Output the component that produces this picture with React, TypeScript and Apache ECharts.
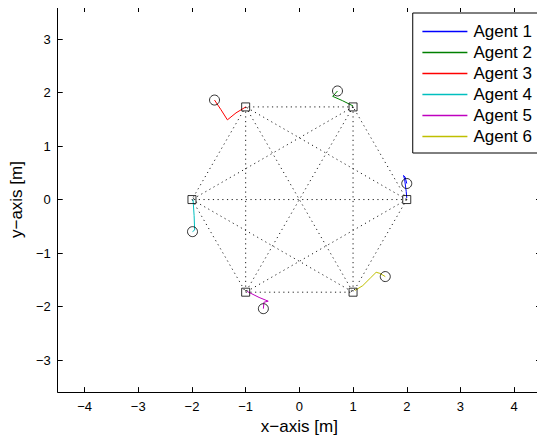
import React, { useEffect, useRef } from "react";
import * as echarts from "echarts";

const agentNames = ["Agent 1", "Agent 2", "Agent 3", "Agent 4", "Agent 5", "Agent 6"];
const agentColors = ["#0000ff", "#008000", "#ff0000", "#00bfbf", "#bf00bf", "#bfbf00"];

// Trajectories (x, y) of each agent, from start (circle) to target (square)
const agent1X = [2.0, 1.97, 1.94, 1.96, 1.99, 2.0];
const agent1Y = [0.3, 0.42, 0.45, 0.38, 0.15, 0.03];
const agent2X = [0.71, 0.65, 0.62, 0.8, 1.0];
const agent2Y = [2.03, 1.96, 1.93, 1.85, 1.75];
const agent3X = [-1.58, -1.46, -1.34, -1.18, -1.0];
const agent3Y = [1.86, 1.68, 1.49, 1.62, 1.73];
const agent4X = [-1.99, -1.95, -1.96, -1.98];
const agent4Y = [-0.6, -0.57, -0.3, 0.0];
const agent5X = [-0.67, -0.66, -0.58, -0.75, -0.97];
const agent5Y = [-2.04, -1.92, -1.9, -1.83, -1.72];
const agent6X = [1.6, 1.5, 1.43, 1.33, 1.18, 1.035];
const agent6Y = [-1.44, -1.38, -1.36, -1.46, -1.61, -1.7];

// Formation (hexagon) vertices = targets
const vertexX = [2, 1, -1, -2, -1, 1];
const vertexY = [0, 1.732, 1.732, 0, -1.732, -1.732];

const xTicks = [-4, -3, -2, -1, 0, 1, 2, 3, 4];
const yTicks = [-3, -2, -1, 0, 1, 2, 3];

const trajX = [agent1X, agent2X, agent3X, agent4X, agent5X, agent6X];
const trajY = [agent1Y, agent2Y, agent3Y, agent4Y, agent5Y, agent6Y];

const FONT = "'Liberation Sans', Arial, Helvetica, sans-serif";
const fmt = (v: any) => String(v).replace("-", "\u2212");

export default function App() {
  const ref = useRef<HTMLDivElement>(null);
  useEffect(() => {
    if (!ref.current) return;
    const chart = echarts.init(ref.current, undefined, { renderer: "svg" });

    const edges: any[] = [];
    for (let i = 0; i < vertexX.length; i++) {
      for (let j = i + 1; j < vertexX.length; j++) {
        edges.push([vertexX[i], vertexY[i]]);
        edges.push([vertexX[j], vertexY[j]]);
        edges.push("-");
      }
    }

    const axisCommon = {
      type: "value" as const,
      axisLine: { show: true, onZero: false, lineStyle: { color: "#000", width: 1 } },
      splitLine: { show: false },
    };

    const series: any[] = [
      {
        type: "line",
        name: "edges",
        data: edges,
        symbol: "none",
        connectNulls: false,
        lineStyle: { color: "#222", width: 1, type: [1.2, 3.5] },
        z: 1,
        silent: true,
      },
    ];
    agentNames.forEach((n, k) => {
      series.push({
        type: "line",
        name: n,
        data: trajX[k].map((x, i) => [x, trajY[k][i]]),
        symbol: "none",
        lineStyle: { color: agentColors[k], width: 1 },
        itemStyle: { color: agentColors[k] },
        z: 3,
      });
    });
    series.push({
      type: "scatter",
      name: "start",
      data: trajX.map((xs, k) => [xs[0], trajY[k][0]]),
      symbol: "circle",
      symbolSize: 10,
      itemStyle: { color: "transparent", borderColor: "#000", borderWidth: 1 },
      z: 4,
    });
    series.push({
      type: "scatter",
      name: "target",
      data: vertexX.map((x, i) => [x, vertexY[i]]),
      symbol: "rect",
      symbolSize: 8,
      itemStyle: { color: "transparent", borderColor: "#000", borderWidth: 1 },
      z: 4,
    });

    chart.setOption({
      animation: false,
      backgroundColor: "#fff",
      textStyle: { fontFamily: FONT },
      grid: { left: 57, right: 4, top: 7, bottom: 45 },
      legend: {
        data: agentNames,
        orient: "vertical",
        right: 7,
        top: 13,
        itemStyle: { opacity: 0 },
        lineStyle: { width: 1.3 },
        backgroundColor: "#fff",
        borderColor: "#000",
        borderWidth: 1,
        borderRadius: 0,
        padding: [10, 6, 8, 9],
        itemWidth: 45,
        itemHeight: 17,
        itemGap: 4,
        selectedMode: false,
        textStyle: { fontFamily: FONT, fontSize: 17, color: "#000", padding: [0, 0, 0, 1] },
      },
      xAxis: [
        {
          ...axisCommon,
          min: -4.5,
          max: 4.5,
          position: "bottom",
          name: "x\u2212axis [m]",
          nameLocation: "middle",
          nameGap: 23,
          nameTextStyle: { fontFamily: FONT, fontSize: 17, color: "#000" },
          axisTick: { show: true, inside: true, length: 5, customValues: xTicks, lineStyle: { color: "#000" } },
          axisLabel: { show: true, customValues: xTicks, formatter: fmt, fontFamily: FONT, fontSize: 13, color: "#000", margin: 8 },
        },
        {
          ...axisCommon,
          min: -4.5,
          max: 4.5,
          position: "top",
          axisTick: { show: true, inside: true, length: 5, customValues: xTicks, lineStyle: { color: "#000" } },
          axisLabel: { show: false },
        },
      ],
      yAxis: [
        {
          ...axisCommon,
          min: -3.6,
          max: 3.6,
          position: "left",
          name: "y\u2212axis [m]",
          nameLocation: "middle",
          nameGap: 29,
          nameTextStyle: { fontFamily: FONT, fontSize: 17, color: "#000" },
          axisTick: { show: true, inside: true, length: 5, customValues: yTicks, lineStyle: { color: "#000" } },
          axisLabel: { show: true, customValues: yTicks, formatter: fmt, fontFamily: FONT, fontSize: 13, color: "#000", margin: 7 },
        },
        {
          ...axisCommon,
          min: -3.6,
          max: 3.6,
          position: "right",
          axisTick: { show: true, inside: true, length: 5, customValues: yTicks, lineStyle: { color: "#000" } },
          axisLabel: { show: false },
        },
      ],
      series,
    });
    return () => chart.dispose();
  }, []);
  return <div ref={ref} style={{ width: 545, height: 440, marginLeft: -8, marginTop: -8 }} />;
}
